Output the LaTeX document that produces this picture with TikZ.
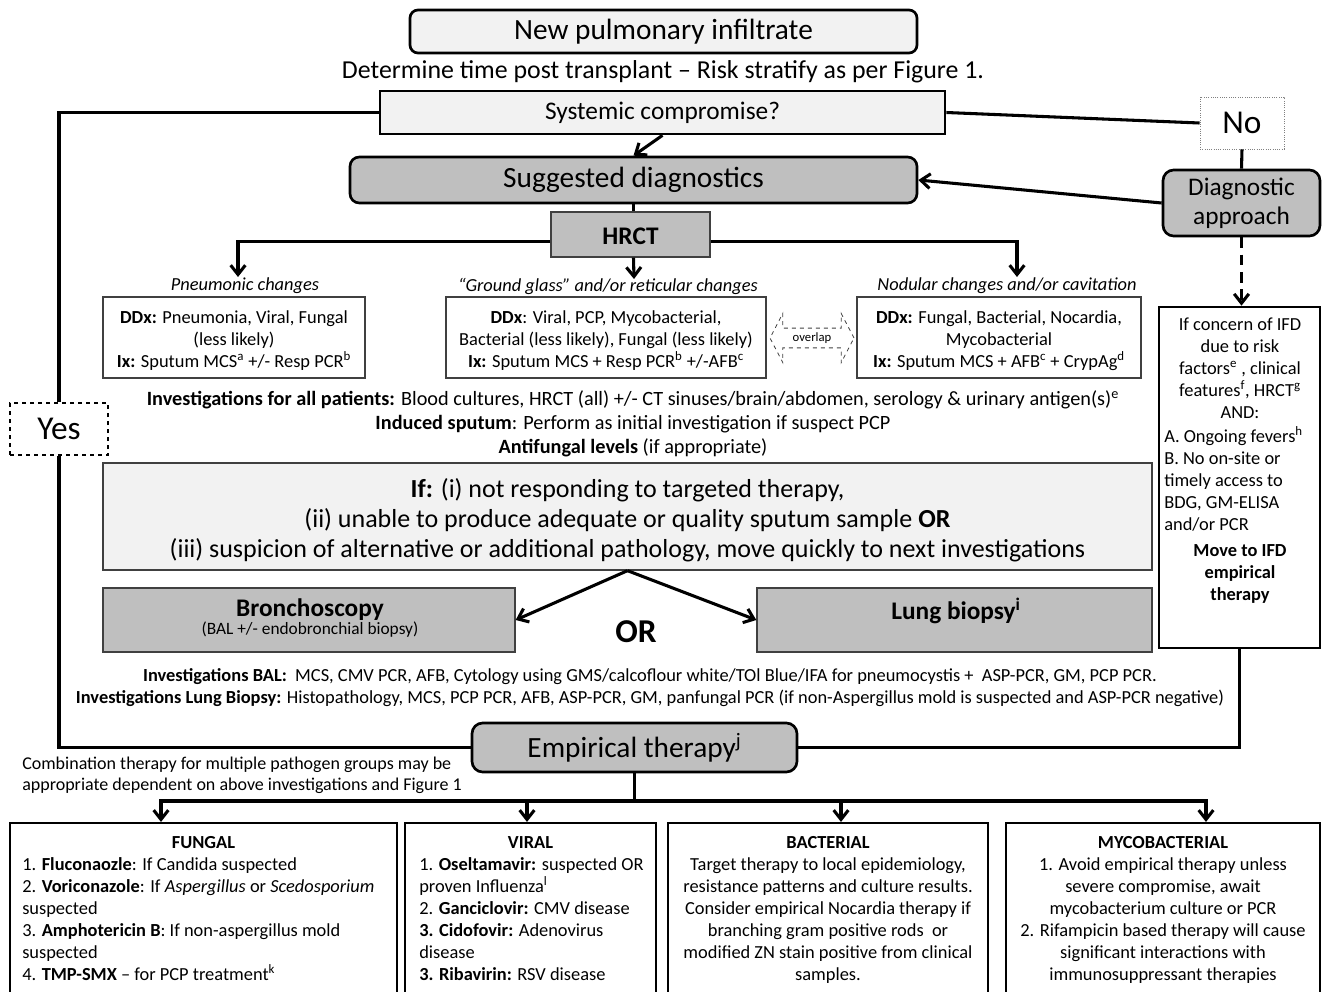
\documentclass[tikz,border=0pt]{standalone}
\usepackage{fontspec}
\setmainfont{Carlito}
\usetikzlibrary{fit, arrows.meta, shapes.arrows}

\definecolor{lightfill}{HTML}{F2F2F2}
\definecolor{greyfill}{HTML}{BFBFBF}
\definecolor{thinedge}{HTML}{404040}

\newcommand{\fsbig}{\fontsize{22pt}{26pt}\selectfont}
\newcommand{\fsmid}{\fontsize{19pt}{22pt}\selectfont}
\newcommand{\fsdet}{\fontsize{19.4pt}{22pt}\selectfont}
\newcommand{\fsif}{\fontsize{19.5pt}{22.5pt}\selectfont}
\newcommand{\fsall}{\fontsize{15.2pt}{18pt}\selectfont}
\newcommand{\fsbody}{\fontsize{13.8pt}{16.5pt}\selectfont}
\newcommand{\fscomb}{\fontsize{13.5pt}{16pt}\selectfont}
\newcommand{\fsyn}{\fontsize{25pt}{30pt}\selectfont}
\newcommand{\fssmall}{\fontsize{13pt}{15pt}\selectfont}
\newcommand{\fstiny}{\fontsize{9.5pt}{11pt}\selectfont}

\tikzset{
  thickbox/.style={draw=black, line width=2pt, inner sep=0pt},
  thinbox/.style={draw=thinedge, line width=1pt, inner sep=0pt},
  botbox/.style={draw=black, line width=1.6pt, inner sep=0pt},
  txt/.style={inner sep=0pt, align=center},
  conn/.style={line width=2.3pt},
  arr/.style={conn, -{Straight Barb[length=7pt,width=11pt]}},
}

\begin{document}
\begin{tikzpicture}[x=0.75pt, y=-0.75pt]
\useasboundingbox (0,0) rectangle (1322,992);

% header
\node[thickbox, fill=lightfill, rounded corners=6pt, fit={(410,10) (917,53)}] (infil) {};
\node[txt, font=\fsbig] (infiltxt) at (infil.center) {New pulmonary infiltrate};
\node[txt, font=\fsdet] (strat) at (663,72) {Determine time post transplant -- Risk stratify as per Figure 1.};
\node[thickbox, fill=lightfill, fit={(380,91) (945,134)}] (sys) {};
\node[txt, font=\fsmid] (systxt) at (sys.center) {Systemic compromise?};
\node[draw=gray, densely dotted, line width=0.7pt, inner sep=0pt, fit={(1200,97) (1284,149)}] (no) {};
\node[txt, font=\fsyn] (notxt) at (no.center) {No};
\node[thickbox, fill=greyfill, rounded corners=7pt, fit={(350,157) (917,203)}] (sugg) {};
\node[txt, font=\fsbig] (suggtxt) at (sugg.center) {Suggested diagnostics};
\node[thickbox, fill=greyfill, rounded corners=8pt, fit={(1163,170) (1320,236)}] (diag) {};
\node[txt, font=\fsmid] (diagtxt) at (diag.center) {Diagnostic\\approach};
\node[thinbox, fill=greyfill, fit={(551,212) (710,257)}] (hrct) {};
\node[txt, font=\fsmid\bfseries] (hrcttxt) at ([yshift=-1.5pt]hrct.center) {HRCT};

% HRCT patterns
\coordinate (tipL) at (238,277);
\coordinate (tipR) at (1017,277);
\coordinate (tipM) at (634,279);
\node[txt, font=\fsbody\itshape] (pneu) at (245,286) {Pneumonic changes};
\node[txt, font=\fsbody\itshape] (glass) at (608,286) {“Ground glass” and/or reticular changes};
\node[txt, font=\fsbody\itshape] (nodul) at (1007,286) {Nodular changes and/or cavitation};
\node[thinbox, fit={(103,297) (365,378)}] (ddxa) {};
\node[txt, font=\fsbody] (ddxatxt) at ([yshift=-2.2pt]ddxa.center) {\textbf{DDx:} Pneumonia, Viral, Fungal\\(less likely)\\\textbf{Ix:} Sputum MCS\textsuperscript{a} +/- Resp PCR\textsuperscript{b}};
\node[thinbox, fit={(446,297) (766,378)}] (ddxb) {};
\node[txt, font=\fsbody] (ddxbtxt) at ([yshift=-2.2pt]ddxb.center) {\textbf{DDx}: Viral, PCP, Mycobacterial,\\Bacterial (less likely), Fungal (less likely)\\\textbf{Ix:} Sputum MCS + Resp PCR\textsuperscript{b} +/-AFB\textsuperscript{c}};
\node[thinbox, fit={(857,297) (1141,378)}] (ddxc) {};
\node[txt, font=\fsbody] (ddxctxt) at ([yshift=-2.2pt]ddxc.center) {\textbf{DDx:} Fungal, Bacterial, Nocardia,\\Mycobacterial\\\textbf{Ix:} Sputum MCS + AFB\textsuperscript{c} + CrypAg\textsuperscript{d}};
\node[draw=thinedge, dashed, line width=0.6pt, double arrow, double arrow head extend=11pt, double arrow tip angle=125, minimum height=63pt, minimum width=37pt, inner sep=3pt, font=\fstiny] (ovl) at (812,338) {overlap};

\node[txt, font=\fsall] (allpat) at (633,424) {\textbf{Investigations for all patients:} Blood cultures, HRCT (all) +/- CT sinuses/brain/abdomen, serology \& urinary antigen(s)\textsuperscript{e}\\\textbf{Induced sputum}: Perform as initial investigation if suspect PCP\\\textbf{Antifungal levels} (if appropriate)};

% yes / no branches
\node[draw, dashed, line width=0.8pt, inner sep=0pt, fit={(10,403) (108,455)}] (yes) {};
\node[txt, font=\fsyn] (yestxt) at (yes.center) {Yes};
\node[thickbox, fill=white, fit={(1159,307) (1320,648)}] (ifd) {};
\node[txt, font=\fsbody, anchor=north] (ifdtop) at (1240,318) {If concern of IFD\\due to risk\\factors\textsuperscript{e} , clinical\\features\textsuperscript{f}, HRCT\textsuperscript{g}\\AND:};
\node[txt, font=\fsbody, align=left, anchor=north west] (ifdmid) at (1164,426) {A. Ongoing fevers\textsuperscript{h}\\B. No on-site or\\timely access to\\BDG, GM-ELISA\\and/or PCR};
\node[txt, font=\fsbody\bfseries, anchor=north] (ifdbot) at (1240,544) {Move to IFD\\empirical\\therapy};

% further investigations
\node[thinbox, fill=lightfill, fit={(103,463) (1152,570)}] (ifbox) {};
\node[txt, font=\fsif] (iftxt) at ([yshift=-3pt]ifbox.center) {\textbf{If:} (i) not responding to targeted therapy,\\(ii) unable to produce adequate or quality sputum sample \textbf{OR}\\(iii) suspicion of alternative or additional pathology, move quickly to next investigations};
\node[thinbox, fill=greyfill, fit={(103,588) (515,652)}] (bron) {};
\node[txt, font=\fsmid\bfseries] (bront) at (310,610) {Bronchoscopy};
\node[txt, font=\fssmall] (bronsub) at (310,630) {(BAL +/- endobronchial biopsy)};
\node[thinbox, fill=greyfill, fit={(757,588) (1152,652)}] (lung) {};
\node[txt, font=\fsmid\bfseries] (lungt) at (956,611) {Lung biopsy\textsuperscript{i}};
\node[txt, font=\fsyn\bfseries] (orlbl) at (636,632) {OR};
\node[txt, font=\fsbody] (inv) at (650,688) {\textbf{Investigations BAL:}\ \ MCS, CMV PCR, AFB, Cytology using GMS/calcoflour white/TOl Blue/IFA for pneumocystis +\ \ ASP-PCR, GM, PCP PCR.\\\textbf{Investigations Lung Biopsy:} Histopathology, MCS, PCP PCR, AFB, ASP-PCR, GM, panfungal PCR (if non-Aspergillus mold is suspected and ASP-PCR negative)};

% therapy
\node[thickbox, fill=greyfill, rounded corners=8pt, fit={(472,723) (797,772)}] (emp) {};
\node[txt, font=\fsbig] (emptxt) at (emp.center) {Empirical therapy\textsuperscript{j}};
\node[txt, font=\fscomb, align=left, anchor=west] (combo) at (22,775) {Combination therapy for multiple pathogen groups may be\\appropriate dependent on above investigations and Figure 1};
\coordinate (bus) at (634.5,801);
\coordinate (busL) at (161,801);
\coordinate (busV) at (527,801);
\coordinate (busB) at (841,801);
\coordinate (busR) at (1206,801);

\node[botbox, fit={(10,823) (397,1000)}] (fungal) {};
\node[botbox, fit={(405,823) (656,1000)}] (viral) {};
\node[botbox, fit={(668,823) (988,1000)}] (bact) {};
\node[botbox, fit={(1006,823) (1320,1000)}] (myco) {};

\node[txt, font=\fsbody\bfseries, anchor=north] (fungalh) at (203.5,836) {FUNGAL};
\node[txt, font=\fsbody, align=left, anchor=north west] (fungalt) at (22,857) {1. \textbf{Fluconaozle}: If Candida suspected\\2. \textbf{Voriconazole}: If \textit{Aspergillus} or \textit{Scedosporium}\\suspected\\3. \textbf{Amphotericin B}: If non-aspergillus mold\\suspected\\4. \textbf{TMP-SMX} -- for PCP treatment\textsuperscript{k}};
\node[txt, font=\fsbody\bfseries, anchor=north] (viralh) at (530.5,836) {VIRAL};
\node[txt, font=\fsbody, align=left, anchor=north west] (viralt) at (419,857) {1. \textbf{Oseltamavir:} suspected OR\\proven Influenza\textsuperscript{l}\\2. \textbf{Ganciclovir:} CMV disease\\\textbf{3. Cidofovir:} Adenovirus\\disease\\\textbf{3. Ribavirin:} RSV disease};
\node[txt, font=\fsbody\bfseries, anchor=north] (bacth) at (828,836) {BACTERIAL};
\node[txt, font=\fsbody, anchor=north] (bactt) at (828,857) {Target therapy to local epidemiology,\\resistance patterns and culture results.\\Consider empirical Nocardia therapy if\\branching gram positive rods\ \ or\\modified ZN stain positive from clinical\\samples.};
\node[txt, font=\fsbody\bfseries, anchor=north] (mycoh) at (1163,836) {MYCOBACTERIAL};
\node[txt, font=\fsbody, anchor=north] (mycot) at (1163,857) {1. Avoid empirical therapy unless\\severe compromise, await\\mycobacterium culture or PCR\\2. Rifampicin based therapy will cause\\significant interactions with\\immunosuppressant therapies};

% connectors
\draw[arr] (sys.south) -- (sugg.north);
\draw[conn] (sys.east) -- (no.west);
\draw[conn] (no.south) -- (diag.north);
\draw[arr] (diag.west) -- (sugg.east);
\draw[conn] (sugg.south) -- (sugg.south |- hrct.north);
\draw[arr] ([yshift=-5.5pt]hrct.west) -| (tipL);
\draw[arr] ([yshift=-5.5pt]hrct.east) -| (tipR);
\draw[arr] (sugg.south |- hrct.south) -- (tipM);
\draw[arr, dash pattern=on 8pt off 5pt] (diag.south) -- (diag.south |- ifd.north);
\draw[conn] (sys.west) -| (yes.north);
\draw[conn] (yes.south) |- (emp.west);
\draw[conn] (ifd.south) |- (emp.east);
\draw[arr] (ifbox.south) -- (bron.east);
\draw[arr] (ifbox.south) -- (lung.west);
\draw[arr] (emp.south) -- (bus) -| (fungal.north -| busL);
\draw[arr] (bus) -| (myco.north -| busR);
\draw[arr] (busV) -- (viral.north -| busV);
\draw[arr] (busB) -- (bact.north -| busB);
\end{tikzpicture}
\end{document}
